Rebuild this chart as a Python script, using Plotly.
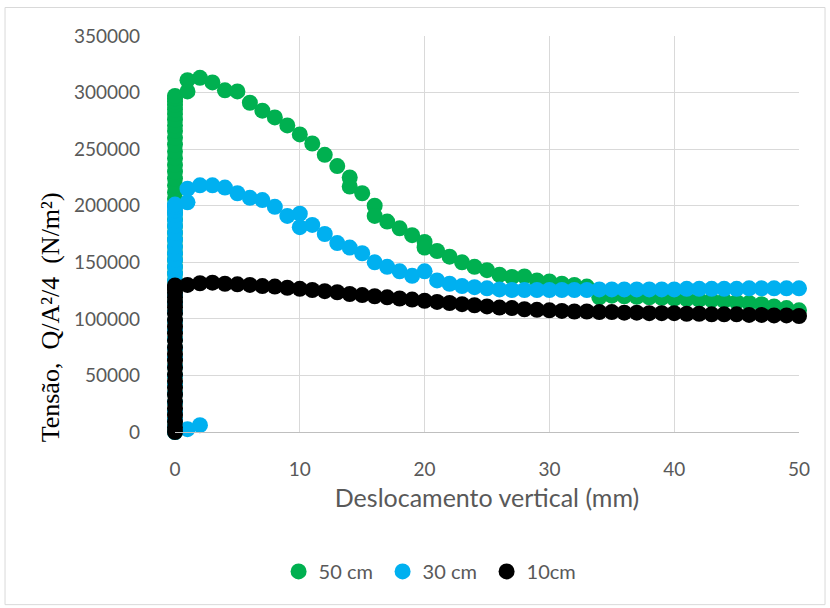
import plotly.graph_objects as go

# Vertical displacement (mm) and stress Q/A²/4 (N/m²) for each specimen height
y0_50 = [0, 5000, 11000, 18000, 26000, 34000, 42000, 50000, 58000, 66000, 74000, 82000, 90000,
         98000, 106000, 114000, 121000, 128000, 134000, 140000, 146000, 152000, 158000, 164000,
         170000, 176000, 182000, 188000, 194000, 200000, 206000, 212000, 218000, 224000, 230000,
         236000, 242000, 248000, 254000, 260000, 266000, 271000, 276000, 281000, 285000, 289000,
         292000, 295000, 297000]
x_50 = [0] * len(y0_50) + [1, 1, 2, 3, 4, 5, 6, 7, 8, 9, 10, 11, 12, 13, 14, 14, 15, 16, 16, 17, 18,
                           19, 20, 20, 21, 22, 23, 24, 25, 26, 27, 28, 29, 30, 31, 32, 33, 34, 35,
                           36, 37, 38, 39, 40, 41, 42, 43, 44, 45, 46, 47, 48, 49, 50]
y_50 = y0_50 + [301000, 311000, 313000, 309000, 302000, 301000, 291000, 284000, 278000, 271000,
                263000, 255000, 245000, 235000, 225000, 217000, 211000, 200000, 191000, 186000,
                180000, 174000, 168000, 163000, 160000, 155000, 150000, 146000, 143000, 139000,
                137000, 137500, 134000, 133000, 131000, 130000, 128500, 119000, 120500, 120000,
                119500, 119000, 118500, 118000, 117500, 117000, 116500, 116000, 115000, 114000,
                113000, 111000, 109500, 107500]

y0_30 = [0, 5000, 11000, 18000, 26000, 34000, 42000, 50000, 58000, 66000, 74000, 82000, 90000,
         98000, 106000, 114000, 121000, 128000, 134000, 140000, 146000, 152000, 158000, 164000,
         170000, 176000, 182000, 187000, 192000, 196000, 199000, 201000]
x_30 = [0] * len(y0_30) + [1, 2, 1, 1, 2, 3, 4, 5, 6, 7, 8, 9, 10, 10, 11, 12, 13, 14, 15, 16, 17,
                           18, 19, 20, 21, 22, 23, 24, 25, 26, 27, 28, 29, 30, 31, 32, 33, 34, 35,
                           36, 37, 38, 39, 40, 41, 42, 43, 44, 45, 46, 47, 48, 49, 50]
y_30 = y0_30 + [2500, 6000,
                203000, 215000, 218000, 218000, 216000, 211000, 207000, 205000, 199000, 191000,
                193000, 181000, 183000, 175000, 167000, 163000, 158000, 150000, 146000, 142000,
                138000, 142000, 134000, 131000, 129000, 128000, 127000, 126000, 125500, 125500,
                125500, 125500, 125500, 125500, 125500, 126000, 126000, 126000, 126000, 126000,
                126000, 126000, 126500, 126500, 126500, 126500, 126500, 127000, 127000, 127000,
                127000, 127000]

y0_10 = [0, 4000, 9000, 15000, 21000, 27000, 33000, 39000, 45000, 51000, 57000, 63000, 69000,
         75000, 81000, 87000, 93000, 99000, 105000, 110000, 115000, 119000, 123000, 126000,
         128000, 129500]
x_10 = [0] * len(y0_10) + list(range(1, 51))
y_10 = y0_10 + [130000, 131500, 132000, 131000, 130500, 130000, 129000, 128500, 127500, 126500,
                125500, 124500, 123500, 122000, 121000, 120000, 119000, 118000, 117000, 116000,
                115000, 114000, 113000, 112000, 111000, 110000, 109500, 108500, 108000, 107500,
                107000, 106500, 106500, 106000, 106000, 105500, 105500, 105000, 105000, 105000,
                104500, 104500, 104000, 104000, 104000, 103500, 103500, 103000, 103000, 102500]

series = [
    ("50 cm", x_50, y_50, "#00B050"),
    ("30 cm", x_30, y_30, "#00B0F0"),
    ("10cm", x_10, y_10, "#000000"),
]

fig = go.Figure()
for name, xs, ys, color in series:
    fig.add_trace(go.Scatter(
        x=xs, y=ys, name=name, mode="markers",
        marker=dict(size=16, color=color, line=dict(width=0)),
        cliponaxis=False,
    ))

sans = "Lato, 'Open Sans', sans-serif"
tick_font = dict(family=sans, size=19, color="#595959")
grid = "#d9d9d9"

fig.update_layout(
    width=830, height=608,
    margin=dict(l=175, r=31, t=36, b=176),
    paper_bgcolor="white", plot_bgcolor="white",
    showlegend=True,
    legend=dict(
        orientation="h", x=0.416, xanchor="center", y=-0.352, yanchor="middle",
        font=dict(family=sans, size=20, color="#595959"),
        itemsizing="trace", traceorder="normal", itemwidth=30, entrywidth=59,
    ),
    xaxis=dict(
        range=[0, 50], dtick=10, showgrid=True, gridcolor=grid, gridwidth=1,
        zeroline=False, showline=True, linecolor="#bfbfbf", linewidth=1,
        ticks="", tickfont=tick_font, ticklabelstandoff=20,
        title=dict(text="Deslocamento vertical (mm)",
                   font=dict(family=sans, size=25, color="#595959"), standoff=10),
    ),
    yaxis=dict(
        range=[0, 350000], dtick=50000, tickformat="d", showgrid=True, gridcolor=grid,
        gridwidth=1, zeroline=False, showline=False, ticks="", tickfont=tick_font,
        ticklabelstandoff=34,
    ),
    shapes=[dict(
        type="rect", xref="paper", yref="paper",
        x0=-0.2724, x1=1.0417, y0=-0.436, y1=1.072,
        line=dict(color="#d9d9d9", width=1), fillcolor="rgba(0,0,0,0)", layer="below",
    )],
    annotations=[dict(
        text="Tensão,  Q/A²/4  (N/m²)", textangle=-90,
        xref="paper", yref="paper", x=-0.2, y=0.29,
        xanchor="center", yanchor="middle", showarrow=False,
        font=dict(family="Liberation Serif, 'Times New Roman', serif", size=26, color="black"),
    )],
)

fig.write_html("out.html")
